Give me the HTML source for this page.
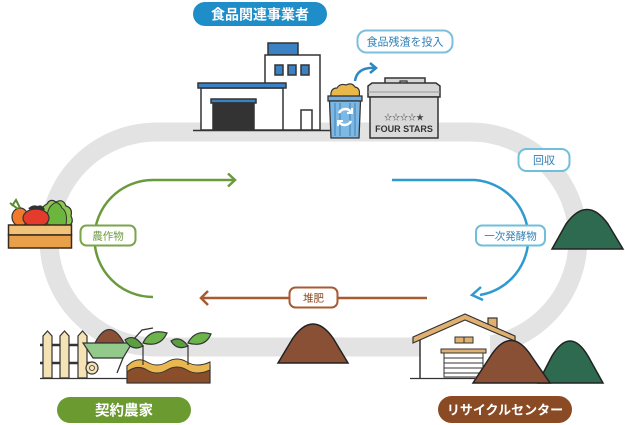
<!DOCTYPE html>
<html><head><meta charset="utf-8"><style>
html,body{margin:0;padding:0;background:#fff;}
svg{display:block;}
text{font-family:"Liberation Sans","Noto Sans CJK JP",sans-serif;}
</style></head><body>
<svg width="625" height="425" viewBox="0 0 625 425" xmlns="http://www.w3.org/2000/svg">
<!-- track -->
<path d="M156.5 132 L470.5 132 A107.5 107.5 0 0 1 470.5 347 L156.5 347 A107.5 107.5 0 0 1 156.5 132 Z" fill="none" stroke="#e3e3e3" stroke-width="19"/>

<!-- top title pill -->
<rect x="193" y="2" width="134" height="24" rx="12" fill="#1f8dc8"/>
<text x="260" y="19.5" font-size="14" font-weight="bold" fill="#fff" text-anchor="middle">食品関連事業者</text>

<!-- 食品残渣を投入 -->
<rect x="357.5" y="30.5" width="95" height="22" rx="9" fill="#fff" stroke="#7cc0dc" stroke-width="2"/>
<text x="405" y="45.5" font-size="11" fill="#2f7fb5" text-anchor="middle">食品残渣を投入</text>
<!-- small curved arrow -->
<path d="M355 81 Q357 67 375 68" fill="none" stroke="#2f86c4" stroke-width="2.5"/>
<path d="M370 63 L376 68 L370 73" fill="none" stroke="#2f86c4" stroke-width="2.5"/>

<!-- building -->
<g stroke="#333" stroke-width="1.5">
<rect x="268" y="43" width="30" height="12" fill="#3b82c4"/>
<rect x="265" y="55" width="55" height="75" fill="#fff"/>
<rect x="275" y="65" width="8" height="10" fill="#3b82c4"/>
<rect x="288" y="65" width="8" height="10" fill="#3b82c4"/>
<rect x="301" y="65" width="8" height="10" fill="#3b82c4"/>
<rect x="301" y="110" width="11" height="20" fill="#fff"/>
<rect x="201" y="88" width="82" height="42" fill="#fff"/>
<rect x="198" y="83" width="88" height="5" fill="#3b82c4"/>
<rect x="211" y="99" width="45" height="4" fill="#3b82c4"/>
<rect x="213" y="103" width="41" height="27" fill="#333"/>
</g>
<line x1="193" y1="130.5" x2="330" y2="130.5" stroke="#333" stroke-width="1.5"/>

<!-- bin -->
<path d="M331 97 Q330 88 337 88 Q340 83 346 85 Q352 82 355 87 Q361 88 359 97 Z" fill="#e8b84a" stroke="#333" stroke-width="1.2"/>
<rect x="328" y="96" width="34" height="5" fill="#6fb0e0" stroke="#333" stroke-width="1.3"/>
<path d="M329.5 101 L360.5 101 L359 138 L331 138 Z" fill="#7db9e4" stroke="#333" stroke-width="1.3"/>
<g stroke="#3f7fb5" stroke-width="1"><line x1="335" y1="103" x2="335" y2="136"/><line x1="340" y1="103" x2="340" y2="136"/><line x1="350" y1="103" x2="350" y2="136"/><line x1="355" y1="103" x2="355" y2="136"/></g>
<path d="M339 113 A7 7 0 0 1 351 112" fill="none" stroke="#fff" stroke-width="2.5"/>
<path d="M351 121 A7 7 0 0 1 339 122" fill="none" stroke="#fff" stroke-width="2.5"/>
<path d="M352 108 L352 113 L347 113" fill="none" stroke="#fff" stroke-width="2"/>
<path d="M338 126 L338 121 L343 121" fill="none" stroke="#fff" stroke-width="2"/>

<!-- FOUR STARS box -->
<g stroke="#333" stroke-width="1.5">
<rect x="385" y="78" width="40" height="10" fill="#d6d6d6"/>
<path d="M368 97 L368 86 L372 83 L436 83 L440 86 L440 97 Z" fill="#d6d6d6"/>
<rect x="370" y="97" width="68" height="41" fill="#dadada"/>
</g>
<path d="M400 83 L400 81 L407 81 L407 83" fill="none" stroke="#333" stroke-width="1.2"/>
<line x1="368" y1="92" x2="440" y2="92" stroke="#999" stroke-width="1"/>
<text x="404" y="120" font-size="8" fill="#444" text-anchor="middle">☆☆☆☆★</text>
<text x="404" y="132" font-size="9" font-weight="bold" fill="#333" text-anchor="middle">FOUR STARS</text>

<!-- green arrow -->
<path d="M153 297 A58.5 58.5 0 0 1 153 180 L234 180" fill="none" stroke="#6b9a3c" stroke-width="2.5"/>
<path d="M228 173.5 L235 180 L228 186.5" fill="none" stroke="#6b9a3c" stroke-width="2.5"/>
<rect x="80.5" y="225.5" width="55" height="20" rx="6" fill="#fff" stroke="#7aa54a" stroke-width="2"/>
<text x="108" y="239.5" font-size="10.5" fill="#6b9a3c" text-anchor="middle">農作物</text>

<!-- blue arrow -->
<path d="M392 180 L475 180 A58 58 0 0 1 480 295" fill="none" stroke="#2f9ad0" stroke-width="2.5"/>
<path d="M481 287 L472 295 L483 300" fill="none" stroke="#2f9ad0" stroke-width="2.5"/>
<rect x="518.5" y="149" width="51" height="22" rx="8" fill="#fff" stroke="#6fbfdc" stroke-width="2"/>
<text x="544" y="164" font-size="11" fill="#2f7fb5" text-anchor="middle">回収</text>
<rect x="476" y="225.5" width="69" height="20" rx="6" fill="#fff" stroke="#6fbfdc" stroke-width="2"/>
<text x="510.5" y="239.5" font-size="10.5" fill="#2f7fb5" text-anchor="middle">一次発酵物</text>

<!-- right green mound -->
<path d="M552 249 L566 224 Q587 195 608 224 L623 249 Z" fill="#2d6a50" stroke="#222" stroke-width="1.5"/>

<!-- brown arrow -->
<line x1="201" y1="298" x2="289" y2="298" stroke="#a85a30" stroke-width="2.5"/>
<line x1="338" y1="298" x2="427" y2="298" stroke="#a85a30" stroke-width="2.5"/>
<path d="M208 291 L201 298 L208 305" fill="none" stroke="#a85a30" stroke-width="2.5"/>
<rect x="289.5" y="287.5" width="48" height="20" rx="6" fill="#fff" stroke="#a85a30" stroke-width="2"/>
<text x="313.5" y="301.5" font-size="10.5" fill="#8a4a24" text-anchor="middle">堆肥</text>

<!-- middle brown mound -->
<path d="M278 363 L293 338 Q313 310 333 338 L348 363 Z" fill="#8a5035" stroke="#222" stroke-width="1.5"/>

<!-- crate with vegetables -->
<path d="M40 225 Q38 208 47 204 Q50 198 56 202 Q63 198 66 206 Q73 208 71 216 Q74 222 70 225 Z" fill="#8cc850" stroke="#333" stroke-width="1.2"/>
<path d="M48 225 Q45 210 53 204 Q58 200 62 208 Q68 212 66 225 Z" fill="#6db63e" stroke="#333" stroke-width="1"/>
<ellipse cx="20" cy="217" rx="8" ry="9" fill="#f07a2a" stroke="#333" stroke-width="1.2"/>
<path d="M12 206 L16 200 L20 208 M10 203 L18 209" stroke="#5a8a30" stroke-width="2" fill="none"/>
<ellipse cx="36" cy="218" rx="13" ry="9" fill="#e43b2c" stroke="#333" stroke-width="1.2"/>
<path d="M29 209 Q33 205 38 207 Q42 205 44 210" stroke="#333" stroke-width="2" fill="#333"/>
<rect x="8.5" y="225" width="63" height="10" fill="#f0c27a" stroke="#3a2a1a" stroke-width="1.5"/>
<rect x="8.5" y="235" width="63" height="13" fill="#e8a04a" stroke="#3a2a1a" stroke-width="1.5"/>

<!-- farm: fence -->
<g stroke="#333" stroke-width="1.2">
<line x1="40" y1="345" x2="92" y2="345" stroke-width="2.5"/>
<line x1="40" y1="363" x2="92" y2="363" stroke-width="2.5"/>
<path d="M43 378 L43 336 L47.5 331 L52 336 L52 378 Z" fill="#f5e3b5"/>
<path d="M60 378 L60 336 L64.5 331 L69 336 L69 378 Z" fill="#f5e3b5"/>
<path d="M78 378 L78 336 L82.5 331 L87 336 L87 378 Z" fill="#f5e3b5"/>
</g>
<line x1="40" y1="378.5" x2="130" y2="378.5" stroke="#333" stroke-width="1.2"/>
<!-- wheelbarrow -->
<path d="M95 343 Q109 316 124 343 Z" fill="#8a5035" stroke="#333" stroke-width="1.2"/>
<path d="M123 358 L117 373 M124 350 L142 330 L153 328" fill="none" stroke="#333" stroke-width="1.3"/>
<path d="M83 343 L132 343 L123 358 L93 358 Z" fill="#93c98a" stroke="#333" stroke-width="1.2"/>
<circle cx="92" cy="368" r="6" fill="#f5e3b5" stroke="#333" stroke-width="1.2"/>
<circle cx="92" cy="368" r="2.5" fill="none" stroke="#333" stroke-width="0.8"/>
<!-- soil bed -->
<rect x="127" y="366" width="83" height="17" fill="#8a4f2a" stroke="#333" stroke-width="1.2"/>
<path d="M127 366 Q137 356 147 362 Q157 368 167 362 Q177 356 187 362 Q197 368 210 362 L210 370 Q197 376 187 370 Q177 364 167 370 Q157 376 147 370 Q137 364 127 372 Z" fill="#e9b650" stroke="#333" stroke-width="1"/>
<!-- seedlings -->
<g stroke="#333" stroke-width="1.2">
<line x1="143" y1="365" x2="143" y2="345"/>
<line x1="188" y1="365" x2="188" y2="345"/>
<path d="M143 346 Q134 333 125 340 Q132 352 143 346 Z" fill="#5aa040"/>
<path d="M143 343 Q150 328 167 333 Q160 348 143 343 Z" fill="#6cb34a"/>
<path d="M188 346 Q180 335 171 341 Q177 351 188 346 Z" fill="#5aa040"/>
<path d="M188 343 Q195 329 211 334 Q205 348 188 343 Z" fill="#6cb34a"/>
</g>

<!-- 契約農家 pill -->
<rect x="57" y="397" width="134" height="26" rx="13" fill="#6a9a30"/>
<text x="124" y="415.5" font-size="14.5" font-weight="bold" fill="#fff" text-anchor="middle">契約農家</text>

<!-- recycle center house -->
<rect x="488" y="318" width="9" height="11" fill="#e0b070" stroke="#333" stroke-width="1.2"/>
<rect x="420" y="336" width="70" height="42" fill="#fff"/>
<line x1="420" y1="338" x2="420" y2="378" stroke="#333" stroke-width="1.5"/>
<path d="M413 337 L465 314 L515 336 L515 341 L465 320 L413 343 Z" fill="#e0b070" stroke="#333" stroke-width="1.2"/>
<rect x="455" y="337" width="18" height="6" fill="#e0b070" stroke="#333" stroke-width="1"/>
<line x1="464" y1="337" x2="464" y2="343" stroke="#333" stroke-width="1"/>
<rect x="441" y="349" width="45" height="4" fill="#e0b070" stroke="#333" stroke-width="1"/>
<rect x="444" y="353" width="39" height="24" fill="#fff" stroke="#333" stroke-width="1"/>
<g stroke="#333" stroke-width="1"><line x1="444" y1="358" x2="483" y2="358"/><line x1="444" y1="363" x2="483" y2="363"/><line x1="444" y1="368" x2="483" y2="368"/><line x1="444" y1="373" x2="483" y2="373"/></g>
<line x1="410" y1="378.5" x2="475" y2="378.5" stroke="#333" stroke-width="1.2"/>
<!-- mounds -->
<path d="M538 383 L552 356 Q570 326 588 356 L603 383 Z" fill="#2d6a50" stroke="#222" stroke-width="1.5"/>
<path d="M473 383 L490 357 Q511 324 532 357 L550 383 Z" fill="#8a5035" stroke="#222" stroke-width="1.5"/>

<!-- リサイクルセンター pill -->
<rect x="438" y="396" width="134" height="27" rx="13.5" fill="#8a4a24"/>
<text x="505" y="414.5" font-size="13" font-weight="bold" fill="#fff" text-anchor="middle">リサイクルセンター</text>
</svg>
</body></html>
